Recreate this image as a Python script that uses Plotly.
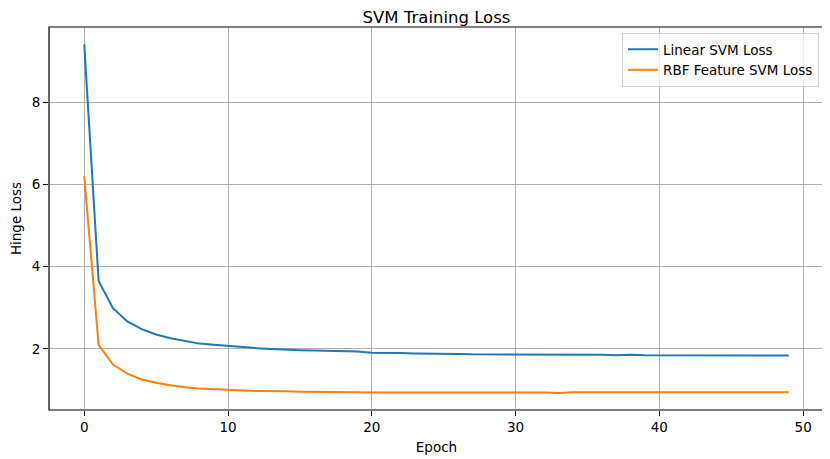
import plotly.graph_objects as go

# per-epoch hinge loss
epochs = list(range(50))

linear_loss = [
    9.40, 3.65, 2.99, 2.67, 2.48, 2.35, 2.26, 2.19, 2.13, 2.10,
    2.07, 2.04, 2.02, 2.00, 1.98, 1.97, 1.96, 1.95, 1.94, 1.94,
    1.91, 1.91, 1.90, 1.89, 1.89, 1.88, 1.88, 1.87, 1.87, 1.87,
    1.86, 1.86, 1.86, 1.86, 1.86, 1.86, 1.86, 1.85, 1.86, 1.85,
    1.85, 1.84, 1.85, 1.85, 1.84, 1.84, 1.84, 1.85, 1.84, 1.84,
]

rbf_loss = [
    6.20, 2.10, 1.62, 1.40, 1.26, 1.18, 1.12, 1.07, 1.04, 1.02,
    1.00, 0.99, 0.98, 0.98, 0.97, 0.96, 0.96, 0.96, 0.95, 0.95,
    0.94, 0.94, 0.95, 0.94, 0.94, 0.94, 0.94, 0.94, 0.94, 0.94,
    0.94, 0.94, 0.94, 0.93, 0.95, 0.95, 0.95, 0.95, 0.95, 0.95,
    0.96, 0.96, 0.96, 0.95, 0.96, 0.96, 0.95, 0.95, 0.95, 0.95,
]

x_ticks = [0, 10, 20, 30, 40, 50]
y_ticks = [2, 4, 6, 8]

font = 'DejaVu Sans'
text_size = 13.5

fig = go.Figure()
fig.add_trace(go.Scatter(
    x=epochs, y=linear_loss, mode='lines',
    line=dict(color='#1f77b4', width=2),
    name='Linear SVM Loss'
))
fig.add_trace(go.Scatter(
    x=epochs, y=rbf_loss, mode='lines',
    line=dict(color='#ff7f0e', width=2),
    name='RBF Feature SVM Loss'
))

axis_common = dict(
    showgrid=True, gridcolor='#b0b0b0', gridwidth=1,
    showline=False,
    ticks='outside', ticklen=5, tickcolor='black',
    zeroline=False,
    tickfont=dict(family=font, size=text_size, color='black'),
)

fig.update_xaxes(
    range=[-2.45, 51.45], tickvals=x_ticks,
    title=dict(text='Epoch', font=dict(family=font, size=text_size, color='black'), standoff=8),
    **axis_common
)
fig.update_yaxes(
    range=[0.517, 9.823], tickvals=y_ticks,
    title=dict(text='Hinge Loss', font=dict(family=font, size=text_size, color='black'), standoff=8),
    **axis_common
)

# axes frame
fig.add_shape(type='rect', xref='paper', yref='paper',
              x0=0, x1=1, y0=0, y1=1, layer='above',
              line=dict(color='black', width=1.2))

# the page body adds an 8px offset, so the figure is 8px smaller than the window
fig.update_layout(
    width=822, height=451,
    margin=dict(l=41, r=6, t=19, b=47),
    paper_bgcolor='white', plot_bgcolor='white',
    title=dict(text='SVM Training Loss', x=0.5, xref='paper',
               y=1 - 9 / 451, yanchor='middle',
               font=dict(family=font, size=16.5, color='black')),
    font=dict(family=font, color='black'),
    showlegend=True,
    legend=dict(
        x=1 - 5 / 775, y=1 - 6 / 385, xanchor='right', yanchor='top',
        bgcolor='rgba(255,255,255,0.8)', bordercolor='#d0d0d0', borderwidth=1,
        font=dict(family=font, size=text_size, color='black'),
        itemwidth=30, tracegroupgap=0,
    ),
)

fig.write_html('out.html')
